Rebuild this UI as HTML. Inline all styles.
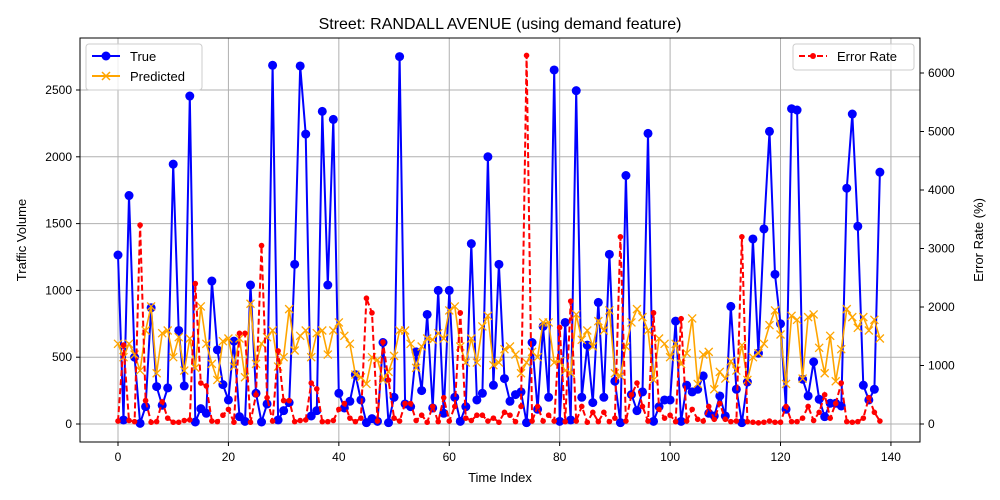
<!DOCTYPE html>
<html><head><meta charset="utf-8"><style>
body{margin:0;background:#fff;}
svg{display:block;font-family:"Liberation Sans","DejaVu Sans",sans-serif;}
</style></head><body>
<svg id="chart" width="1000" height="500" viewBox="0 0 1000 500" xmlns="http://www.w3.org/2000/svg">
<rect width="1000" height="500" fill="#fff"/>
<text x="500" y="29" text-anchor="middle" font-size="16">Street: RANDALL AVENUE (using demand feature)</text>
<g id="grid"></g>
<g id="series"></g>
<rect x="80" y="38" width="840" height="404" fill="none" stroke="#000" stroke-width="1"/>
<g id="axes"></g>
<text x="500" y="482" text-anchor="middle" font-size="13">Time Index</text>
<text transform="translate(26,240) rotate(-90)" text-anchor="middle" font-size="13">Traffic Volume</text>
<text transform="translate(983,240) rotate(-90)" text-anchor="middle" font-size="13">Error Rate (%)</text>
<g>
<rect x="86" y="44" width="116" height="46" rx="3" fill="#fff" fill-opacity="0.8" stroke="#ccc"/>
<g><line x1="92" y1="56" x2="120" y2="56" stroke="#0000ff" stroke-width="2"/><circle cx="106" cy="56" r="4.5" fill="#0000ff"/><text x="130" y="61" font-size="13">True</text></g>
<g><line x1="92" y1="76" x2="120" y2="76" stroke="#ffa500" stroke-width="2"/><path d="M102 72l8 8M110 72l-8 8" stroke="#ffa500" stroke-width="1.5"/><text x="130" y="81" font-size="13">Predicted</text></g>
</g>
<g>
<rect x="793" y="44" width="121" height="26" rx="3" fill="#fff" fill-opacity="0.8" stroke="#ccc"/>
<g><line x1="799" y1="56" x2="827" y2="56" stroke="#ff0000" stroke-width="2" stroke-dasharray="6,3"/><circle cx="813" cy="56" r="3" fill="#ff0000"/><text x="837" y="61" font-size="13">Error Rate</text></g>
</g>
</svg>
<script>
const trueVals=[1265,30,1710,500,5,130,870,280,140,270,1945,700,285,2455,15,115,80,1070,555,295,180,620,55,20,1040,230,15,150,2685,30,100,160,1195,2680,2170,60,100,2340,1040,2280,230,120,170,370,180,10,40,20,610,10,200,2750,150,130,540,250,820,120,1000,80,1000,200,20,130,1350,180,230,2000,290,1195,340,170,220,240,10,610,110,730,200,2650,20,760,30,2495,200,590,160,910,200,1270,320,10,1860,220,100,240,2175,20,130,180,180,770,20,290,240,260,360,80,60,210,60,880,260,10,314,1385,530,1460,2190,1120,750,110,2360,2350,335,210,465,185,55,155,155,135,1765,2320,1480,290,180,260,1885];
const predVals=[600,500,600,520,400,700,880,380,680,700,500,650,400,640,420,880,600,450,330,620,640,430,640,350,900,450,600,650,700,430,500,860,550,660,700,500,680,700,520,700,760,660,600,370,350,300,500,480,330,390,510,700,700,600,420,580,640,630,680,640,850,880,580,460,640,460,730,810,440,460,560,580,520,380,460,540,500,760,760,460,470,400,380,820,630,700,580,770,700,850,380,360,580,760,860,800,700,330,640,600,500,600,450,530,790,300,520,540,260,390,340,470,400,590,330,500,530,600,740,850,670,300,810,780,340,800,820,570,380,660,320,560,860,800,720,800,700,780,640];
const errVals=[50,1350,60,40,3400,400,30,40,380,100,30,30,60,70,2400,700,650,50,40,150,250,30,1550,1550,30,500,3050,450,50,1250,400,400,40,60,70,700,600,40,40,60,250,350,100,40,100,2150,1900,50,1400,750,100,50,350,350,60,150,30,300,40,450,50,300,1900,100,60,150,150,50,100,30,200,150,40,300,6300,50,300,50,150,50,1650,40,2100,50,300,30,200,40,200,40,100,3200,50,500,700,300,50,1900,250,100,150,40,1800,50,250,80,50,300,80,350,80,40,50,3200,40,30,20,30,50,30,30,300,40,40,100,300,60,200,500,100,350,700,40,30,40,100,450,200,50];
const xTicks=[0,20,40,60,80,100,120,140];
const yTicks=[0,500,1000,1500,2000,2500];
const y2Ticks=[0,1000,2000,3000,4000,5000,6000];
const NS="http://www.w3.org/2000/svg";
const X=i=>118+i*5.521;
const Y=v=>424-v*0.1336;
const Y2=v=>424-v*0.0585;
function mk(tag,attrs,parent){const e=document.createElementNS(NS,tag);for(const k in attrs)e.setAttribute(k,attrs[k]);parent.appendChild(e);return e;}
const grid=document.getElementById('grid'),axes=document.getElementById('axes'),ser=document.getElementById('series');
xTicks.forEach(t=>{const x=X(t);
const g=mk('line',{x1:x,x2:x,y1:38,y2:442,stroke:'#b0b0b0','stroke-width':1},grid);


mk('line',{x1:x,x2:x,y1:442,y2:446,stroke:'#000'},axes);
const l=mk('text',{x:x,y:461,'text-anchor':'middle','font-size':12},axes);l.textContent=t;

});
yTicks.forEach(t=>{const y=Y(t);
const g=mk('line',{x1:80,x2:920,y1:y,y2:y,stroke:'#b0b0b0','stroke-width':1},grid);


mk('line',{x1:76,x2:80,y1:y,y2:y,stroke:'#000'},axes);
const l=mk('text',{x:72,y:y+4,'text-anchor':'end','font-size':12},axes);l.textContent=t;

});
y2Ticks.forEach(t=>{const y=Y2(t);
mk('line',{x1:920,x2:924,y1:y,y2:y,stroke:'#000'},axes);
const l=mk('text',{x:928,y:y+4,'text-anchor':'start','font-size':12},axes);l.textContent=t;

});
function pts(arr,f){return arr.map((v,i)=>X(i).toFixed(1)+','+f(v).toFixed(1)).join(' ');}
const lt=mk('polyline',{points:pts(trueVals,Y),fill:'none',stroke:'#0000ff','stroke-width':2},ser);


trueVals.forEach((v,i)=>{const c=mk('circle',{cx:X(i),cy:Y(v),r:4.5,fill:'#0000ff'},ser);

});
const lp=mk('polyline',{points:pts(predVals,Y),fill:'none',stroke:'#ffa500','stroke-width':1.6},ser);


predVals.forEach((v,i)=>{const x=X(i),y=Y(v);const p=mk('path',{d:`M${x-4} ${y-4}L${x+4} ${y+4}M${x+4} ${y-4}L${x-4} ${y+4}`,stroke:'#ffa500','stroke-width':1.3},ser);

});
const le=mk('polyline',{points:pts(errVals,Y2),fill:'none',stroke:'#ff0000','stroke-width':2,'stroke-dasharray':'6,3'},ser);


errVals.forEach((v,i)=>{const c=mk('circle',{cx:X(i),cy:Y2(v),r:2.8,fill:'#ff0000'},ser);

});
</script>
</body></html>
